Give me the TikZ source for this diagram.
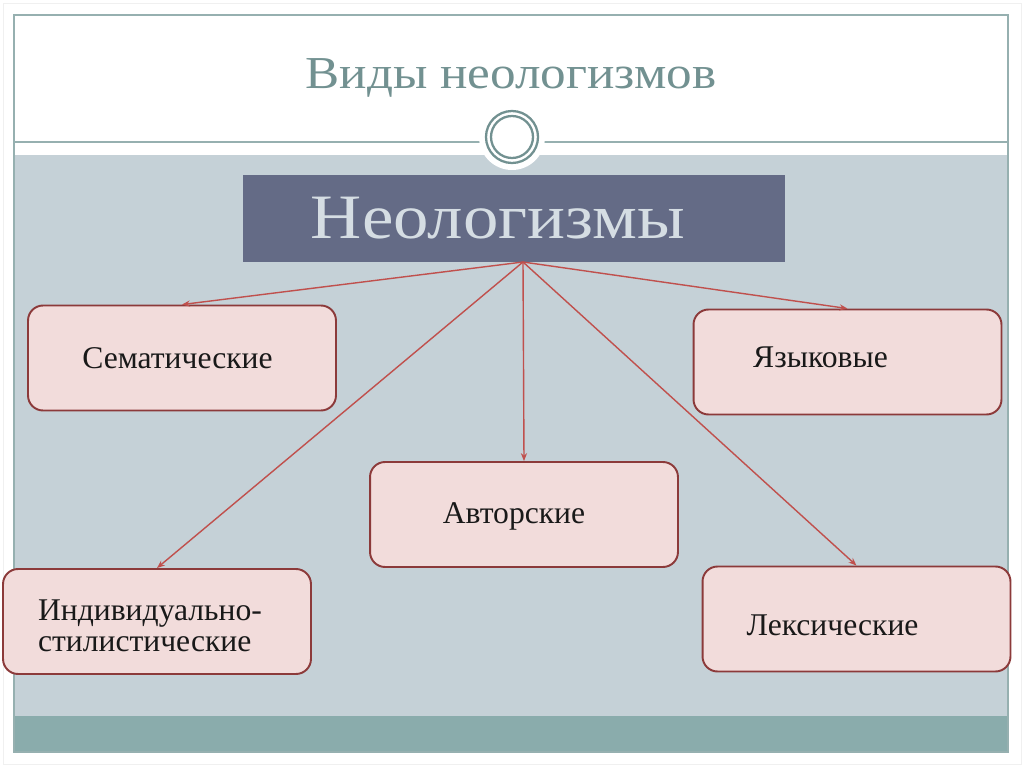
\documentclass[tikz,border=0pt]{standalone}
\usepackage{fontspec}
\setmainfont{Liberation Serif}
\newfontfamily\widefont{Liberation Serif}[FakeStretch=1.12]
\usepackage{xcolor}
\usetikzlibrary{arrows.meta}
\definecolor{titleteal}{RGB}{114,145,145}
\definecolor{frameline}{RGB}{150,176,176}
\definecolor{bandgray}{RGB}{197,209,215}
\definecolor{bandteal}{RGB}{138,172,172}
\definecolor{headslate}{RGB}{100,107,134}
\definecolor{headtext}{RGB}{213,221,227}
\definecolor{kindfill}{RGB}{242,220,219}
\definecolor{kindline}{RGB}{140,58,58}
\definecolor{arrowred}{RGB}{192,80,77}

\begin{document}
\begin{tikzpicture}[x=0.02cm, y=-0.02cm,
  kind/.style={draw=kindline, fill=kindfill, line width=1.1pt,
              rounded corners=0.3cm, minimum width=6.16cm, minimum height=2.1cm},
  kindtext/.style={font=\fontsize{18}{17.5}\selectfont, text=black!90, align=left},
  arrow/.style={-{Stealth[length=4.5pt,width=3.5pt]}, draw=arrowred, line width=0.8pt},
]
  \useasboundingbox (0,0) rectangle (1024,767);
  \fill[white] (0,0) rectangle (1024,767);
  \draw[black!6] (3,3) rectangle (1021,764);

  % Slide frame and bands
  \fill[bandgray] (14,155) rectangle (1008,716);
  \fill[bandteal] (14,716) rectangle (1008,752);
  \draw[frameline, line width=0.6pt] (14,15) rectangle (1008,752);
  \draw[frameline, line width=0.8pt] (14,142) -- (1008,142);

  % Title
  \node[font=\widefont\fontsize{26}{30}\selectfont, text=titleteal] (title) at (511,78) {Виды неологизмов};

  % Ring ornament
  \fill[white] (512,137) circle (33);
  \draw[titleteal, line width=1.3pt] (512,137) circle (26);
  \draw[titleteal, line width=1.3pt] (512,137) circle (21);

  % Root box
  \node[fill=headslate, minimum width=10.84cm, minimum height=1.74cm,
        label={[font=\widefont\fontsize{36}{40}\selectfont, text=headtext, xshift=-0.32cm]center:Неологизмы}]
        (neo) at (514,218.5) {};
  \coordinate (hub) at (523,262);

  % Kinds
  \node[kind, label={[kindtext, xshift=-0.09cm]center:Сематические}] (sem) at (182,358) {};
  \node[kind, label={[kindtext, xshift=-0.54cm, yshift=0.1cm]center:Языковые}] (yaz) at (847.5,362) {};
  \node[kind, label={[kindtext, xshift=-0.2cm, yshift=-0.04cm]center:Авторские}] (avt) at (524,514.5) {};
  \node[kind, label={[kindtext, xshift=-0.14cm, yshift=-0.08cm]center:Индивидуально-\\стилистические}] (ind) at (157,621.5) {};
  \node[kind, label={[kindtext, xshift=-0.48cm, yshift=-0.12cm]center:Лексические}] (lex) at (856.5,619) {};

  % Connectors
  \draw[arrow] (hub) -- (sem.north);
  \draw[arrow] (hub) -- (yaz.north);
  \draw[arrow] (hub) -- (avt.north);
  \draw[arrow] (hub) -- (ind.north);
  \draw[arrow] (hub) -- (lex.north);
\end{tikzpicture}
\end{document}
